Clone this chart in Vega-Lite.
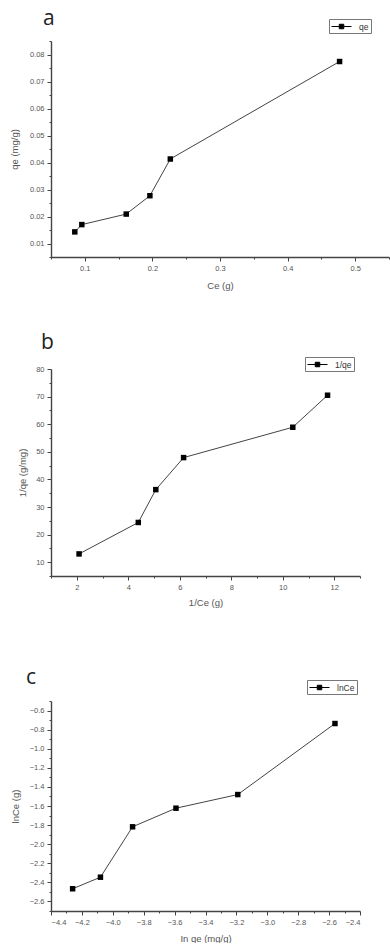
{
  "$schema": "https://vega.github.io/schema/vega-lite/v6.json",
  "padding": {"left": 9, "top": 7, "right": 0, "bottom": 0},
  "background": "white",
  "spacing": 41,
  "bounds": "full",
  "resolve": {"scale": {"color": "independent"}, "legend": {"color": "independent"}},
  "config": {
    "view": {"stroke": null},
    "font": "Liberation Sans",
    "axis": {
      "grid": false,
      "domainColor": "#444",
      "domainWidth": 1.4,
      "tickColor": "#444",
      "tickWidth": 1,
      "labelColor": "#555",
      "labelFont": "Liberation Sans",
      "labelFontSize": 7.5,
      "labelPadding": 3,
      "titleColor": "#555",
      "titleFont": "Liberation Sans",
      "titleFontSize": 9.5,
      "titleFontWeight": "normal",
      "titleBaseline": "middle"
    },
    "legend": {
      "title": null,
      "orient": "none",
      "strokeColor": "#777",
      "padding": 2,
      "labelFont": "Liberation Sans",
      "labelFontSize": 8.5,
      "labelColor": "#333",
      "symbolType": "M-2,0H2M-0.45,-0.45H0.45V0.45H-0.45Z",
      "symbolSize": 100,
      "symbolStrokeColor": "#000",
      "symbolFillColor": "#000",
      "symbolStrokeWidth": 1,
      "labelOffset": 12,
      "symbolOffset": 5
    },
    "title": {"anchor": "start", "frame": "group", "font": "Open Sans", "fontSize": 21, "fontWeight": "normal", "color": "#222"}
  },
  "vconcat": [
    {
      "title": {"text": "a", "dx": -8, "offset": -10},
      "width": 338,
      "height": 216,
      "data": {"values": [
        {"Ce": 0.0852, "qe": 0.0143},
        {"Ce": 0.0956, "qe": 0.0170},
        {"Ce": 0.1613, "qe": 0.0209},
        {"Ce": 0.1963, "qe": 0.0277},
        {"Ce": 0.2265, "qe": 0.0413},
        {"Ce": 0.4769, "qe": 0.0774}
      ]},
      "encoding": {
        "x": {"field": "Ce", "type": "quantitative", "scale": {"domain": [0.05, 0.55], "nice": false, "zero": false},
          "axis": {"title": "Ce (g)", "titleY": 28, "format": ".1f",
            "values": [0.05, 0.1, 0.15, 0.2, 0.25, 0.3, 0.35, 0.4, 0.45, 0.5, 0.55],
            "labelExpr": "abs(datum.value*10 - round(datum.value*10)) < 1e-6 ? datum.label : ''",
            "tickSize": {"condition": {"test": "abs(datum.value*10 - round(datum.value*10)) < 1e-6", "value": 4}, "value": 2}}},
        "y": {"field": "qe", "type": "quantitative", "scale": {"domain": [0.005, 0.085], "nice": false, "zero": false},
          "axis": {"title": "qe (mg/g)", "titleX": -37, "format": ".2f",
            "values": [0.005, 0.01, 0.015, 0.02, 0.025, 0.03, 0.035, 0.04, 0.045, 0.05, 0.055, 0.06, 0.065, 0.07, 0.075, 0.08, 0.085],
            "labelExpr": "abs(datum.value*100 - round(datum.value*100)) < 1e-6 ? datum.label : ''",
            "tickSize": {"condition": {"test": "abs(datum.value*100 - round(datum.value*100)) < 1e-6", "value": 4}, "value": 2}}}
      },
      "layer": [
        {"mark": {"type": "line", "color": "#444", "strokeWidth": 1}},
        {"mark": {"type": "point", "shape": "square", "filled": true, "size": 30, "opacity": 1},
         "encoding": {"color": {"datum": "qe", "type": "nominal", "scale": {"range": ["#000"]},
           "legend": {"legendX": 278, "legendY": -22}}}}
      ]
    },
    {
      "title": {"text": "b", "dx": -10, "offset": 4},
      "width": 309,
      "height": 207,
      "data": {"values": [
        {"invCe": 2.09, "invqe": 13.0},
        {"invCe": 4.39, "invqe": 24.4},
        {"invCe": 5.07, "invqe": 36.3},
        {"invCe": 6.15, "invqe": 47.9},
        {"invCe": 10.39, "invqe": 58.9},
        {"invCe": 11.74, "invqe": 70.5}
      ]},
      "encoding": {
        "x": {"field": "invCe", "type": "quantitative", "scale": {"domain": [1, 13], "nice": false, "zero": false},
          "axis": {"title": "1/Ce (g)", "titleY": 26, "format": "d",
            "values": [1, 2, 3, 4, 5, 6, 7, 8, 9, 10, 11, 12, 13],
            "labelExpr": "datum.value % 2 == 0 ? datum.label : ''",
            "tickSize": {"condition": {"test": "datum.value % 2 == 0", "value": 4}, "value": 2}}},
        "y": {"field": "invqe", "type": "quantitative", "scale": {"domain": [5, 80], "nice": false, "zero": false},
          "axis": {"title": "1/qe (g/mg)", "titleX": -29, "format": "d",
            "values": [5, 10, 15, 20, 25, 30, 35, 40, 45, 50, 55, 60, 65, 70, 75, 80],
            "labelExpr": "datum.value % 10 == 0 ? datum.label : ''",
            "tickSize": {"condition": {"test": "datum.value % 10 == 0", "value": 4}, "value": 2}}}
      },
      "layer": [
        {"mark": {"type": "line", "color": "#444", "strokeWidth": 1}},
        {"mark": {"type": "point", "shape": "square", "filled": true, "size": 30, "opacity": 1},
         "encoding": {"color": {"datum": "1/qe", "type": "nominal", "scale": {"range": ["#000"]},
           "legend": {"legendX": 254, "legendY": -12}}}}
      ]
    },
    {
      "title": {"text": ["", "c"], "dx": -25, "offset": -8, "lineHeight": 18},
      "width": 309,
      "height": 210,
      "data": {"values": [
        {"lnqe": -4.26, "lnCe": -2.467},
        {"lnqe": -4.08, "lnCe": -2.346},
        {"lnqe": -3.872, "lnCe": -1.818},
        {"lnqe": -3.591, "lnCe": -1.623},
        {"lnqe": -3.191, "lnCe": -1.48},
        {"lnqe": -2.562, "lnCe": -0.736}
      ]},
      "encoding": {
        "x": {"field": "lnqe", "type": "quantitative", "scale": {"domain": [-4.4, -2.4], "nice": false, "zero": false},
          "axis": {"title": "In qe (mg/g)", "titleY": 27, "format": ".1f",
            "values": [-4.4, -4.3, -4.2, -4.1, -4.0, -3.9, -3.8, -3.7, -3.6, -3.5, -3.4, -3.3, -3.2, -3.1, -3.0, -2.9, -2.8, -2.7, -2.6, -2.5, -2.4],
            "labelExpr": "abs(datum.value*5 - round(datum.value*5)) < 1e-6 ? datum.label : ''",
            "tickSize": {"condition": {"test": "abs(datum.value*5 - round(datum.value*5)) < 1e-6", "value": 4}, "value": 2}}},
        "y": {"field": "lnCe", "type": "quantitative", "scale": {"domain": [-2.7, -0.5], "nice": false, "zero": false},
          "axis": {"title": "lnCe (g)", "titleX": -36, "format": ".1f",
            "values": [-2.7, -2.6, -2.5, -2.4, -2.3, -2.2, -2.1, -2.0, -1.9, -1.8, -1.7, -1.6, -1.5, -1.4, -1.3, -1.2, -1.1, -1.0, -0.9, -0.8, -0.7, -0.6, -0.5],
            "labelExpr": "abs(datum.value*5 - round(datum.value*5)) < 1e-6 ? datum.label : ''",
            "tickSize": {"condition": {"test": "abs(datum.value*5 - round(datum.value*5)) < 1e-6", "value": 4}, "value": 2}}}
      },
      "layer": [
        {"mark": {"type": "line", "color": "#444", "strokeWidth": 1}},
        {"mark": {"type": "point", "shape": "square", "filled": true, "size": 30, "opacity": 1},
         "encoding": {"color": {"datum": "lnCe", "type": "nominal", "scale": {"range": ["#000"]},
           "legend": {"legendX": 256, "legendY": -21}}}}
      ]
    }
  ]
}
